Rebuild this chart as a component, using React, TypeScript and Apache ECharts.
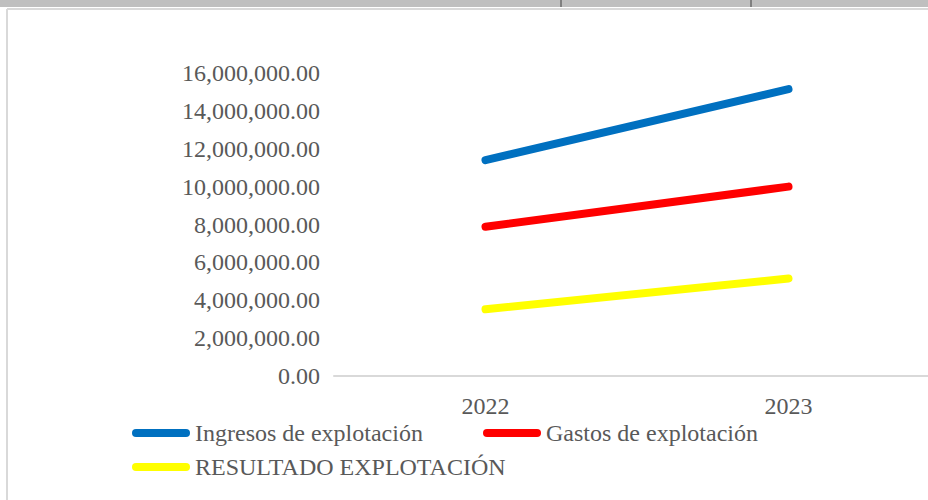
import React, { useEffect, useRef } from "react";
import * as echarts from "echarts";

const years = ["2022", "2023"];
const seriesNames = ["Ingresos de explotación", "Gastos de explotación", "RESULTADO EXPLOTACIÓN"];
const ingresos = [11400000, 15150000];
const gastos = [7880000, 10000000];
const resultado = [3520000, 5150000];
const seriesColors = ["#0070C0", "#FF0000", "#FFFF00"];

const FONT = "Liberation Serif";
const TEXT_COLOR = "#595959";
const ICON = "path://M4,0 H54 A4,4 0 0 1 54,8 H4 A4,4 0 0 1 4,0 Z";

export default function App() {
  const ref = useRef<HTMLDivElement>(null);
  useEffect(() => {
    if (!ref.current) return;
    const chart = echarts.init(ref.current, undefined, { renderer: "svg" });
    const values = [ingresos, gastos, resultado];
    const legendBase = {
      orient: "horizontal",
      padding: 0,
      itemWidth: 58,
      itemHeight: 8,
      icon: ICON,
      textStyle: { fontFamily: FONT, fontSize: 24, color: TEXT_COLOR },
      selectedMode: false,
    };
    chart.setOption({
      animation: false,
      backgroundColor: "#ffffff",
      graphic: [
        { type: "rect", shape: { x: 0, y: 0, width: 928, height: 7 }, style: { fill: "#bfbfbf" }, silent: true },
        { type: "line", shape: { x1: 561, y1: 0, x2: 561, y2: 7 }, style: { stroke: "#404040", lineWidth: 1 }, silent: true },
        { type: "line", shape: { x1: 751, y1: 0, x2: 751, y2: 7 }, style: { stroke: "#404040", lineWidth: 1 }, silent: true },
        { type: "line", shape: { x1: 7, y1: 9, x2: 928, y2: 9 }, style: { stroke: "#d9d9d9", lineWidth: 2 }, silent: true },
        { type: "line", shape: { x1: 7, y1: 9, x2: 7, y2: 500 }, style: { stroke: "#d9d9d9", lineWidth: 2 }, silent: true },
      ],
      grid: {
        left: 334,
        right: -12,
        top: 73,
        bottom: 124,
        containLabel: false,
        outerBoundsMode: "none",
      },
      xAxis: {
        type: "category",
        data: years,
        boundaryGap: true,
        axisLine: { show: true, lineStyle: { color: "#d9d9d9", width: 2 } },
        axisTick: { show: false },
        axisLabel: { fontFamily: FONT, fontSize: 24, color: TEXT_COLOR, margin: 18 },
        splitLine: { show: false },
      },
      yAxis: {
        type: "value",
        min: 0,
        max: 16000000,
        interval: 2000000,
        axisLine: { show: false },
        axisTick: { show: false },
        splitLine: { show: false },
        axisLabel: {
          fontFamily: FONT,
          fontSize: 24,
          color: TEXT_COLOR,
          margin: 14,
          formatter: (v: number) =>
            v.toLocaleString("en-US", { minimumFractionDigits: 2, maximumFractionDigits: 2 }),
        },
      },
      legend: [
        { ...legendBase, left: 132, top: 421, data: [seriesNames[0]] },
        { ...legendBase, left: 483, top: 421, data: [seriesNames[1]] },
        { ...legendBase, left: 132, top: 455, data: [seriesNames[2]] },
      ],
      series: seriesNames.map((name, i) => ({
        name,
        type: "line",
        data: values[i],
        color: seriesColors[i],
        showSymbol: false,
        symbol: "none",
        lineStyle: { color: seriesColors[i], width: 8, cap: "round" },
        itemStyle: { color: seriesColors[i] },
      })),
    });
    return () => chart.dispose();
  }, []);
  return (
    <div
      ref={ref}
      style={{ position: "fixed", left: 0, top: 0, width: 928, height: 500, background: "#fff" }}
    />
  );
}
